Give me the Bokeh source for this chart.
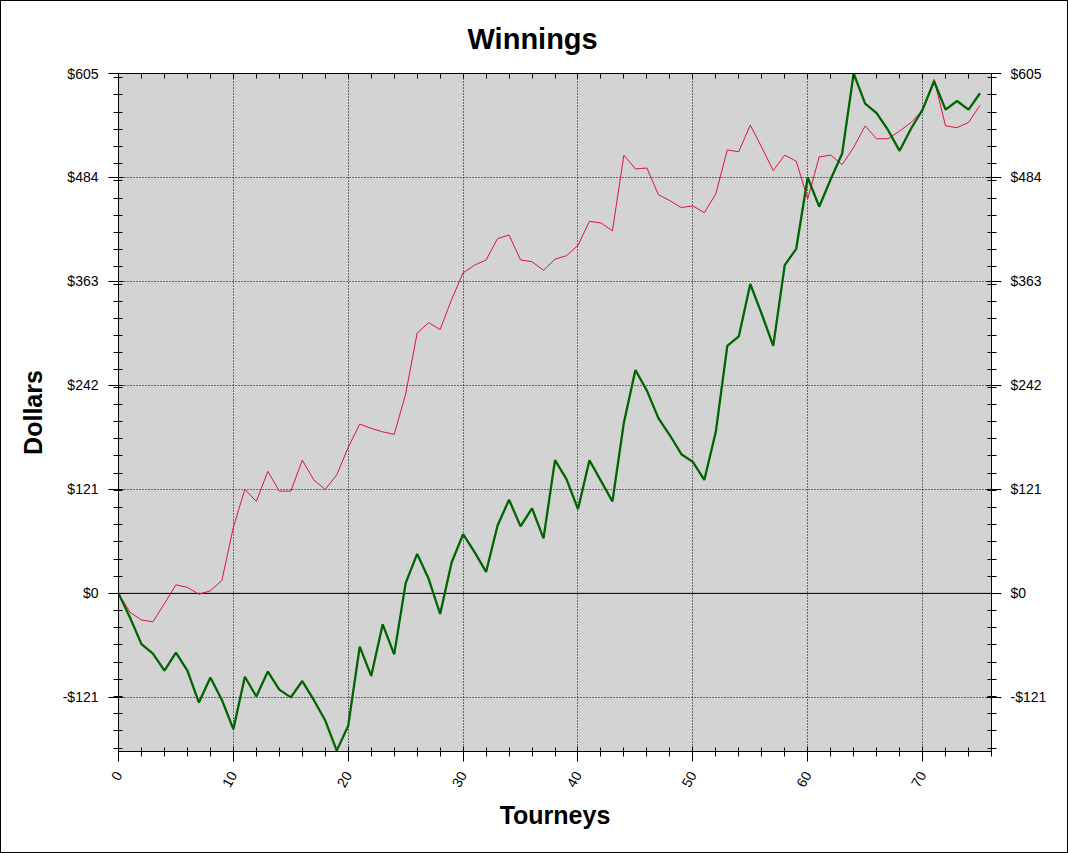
import math
from bokeh.plotting import figure
from bokeh.models import Range1d, LinearAxis, FixedTicker, Span, Title
from bokeh.embed import file_html
from bokeh.resources import INLINE

# ---------------- data ----------------
tourneys = [0, 1, 2, 3, 4, 5, 6, 7, 8, 9, 10, 11, 12, 13, 14, 15, 16, 17, 18, 19,
            20, 21, 22, 23, 24, 25, 26, 27, 28, 29, 30, 31, 32, 33, 34, 35, 36, 37, 38, 39,
            40, 41, 42, 43, 44, 45, 46, 47, 48, 49, 50, 51, 52, 53, 54, 55, 56, 57, 58, 59,
            60, 61, 62, 63, 64, 65, 66, 67, 68, 69, 70, 71, 72, 73, 74, 75]

winnings = [0, -28, -59, -70, -90, -69, -90, -127, -98, -124,
            -158, -97, -120, -91, -112, -121, -102, -124, -148, -183,
            -154, -62, -96, -36, -71, 12, 46, 17, -24, 36,
            69, 48, 25, 79, 109, 78, 99, 64, 155, 133,
            98, 155, 131, 107, 199, 260, 236, 204, 184, 162,
            153, 132, 188, 288, 299, 360, 325, 288, 382, 401,
            484, 450, 482, 512, 605, 570, 559, 539, 515, 541,
            563, 596, 563, 573, 563, 582]

trend = [0, -22, -31, -33, -12, 10, 7, -1, 3, 15,
         77, 121, 107, 142, 119, 119, 155, 132, 121, 138,
         170, 197, 192, 188, 185, 232, 303, 315, 307, 342,
         373, 382, 388, 413, 417, 388, 386, 376, 389, 393,
         405, 433, 431, 422, 510, 494, 495, 464, 457, 449,
         451, 443, 465, 516, 514, 545, 519, 492, 510, 503,
         459, 508, 510, 499, 519, 544, 529, 529, 538, 548,
         562, 598, 544, 542, 548, 568]

y_tick_values = [-121, 0, 121, 242, 363, 484, 605]
y_tick_labels = ["-$121", "$0", "$121", "$242", "$363", "$484", "$605"]
y_minor_values = [-180, -160, -140, -120, -100, -80, -60, -40, -20, 0, 20, 40, 60, 80,
                  100, 120, 140, 160, 180, 200, 220, 240, 260, 280, 300, 320, 340, 360,
                  380, 400, 420, 440, 460, 480, 500, 520, 540, 560, 580, 600]
x_tick_values = [0, 10, 20, 30, 40, 50, 60, 70]
x_minor_values = [0, 2, 4, 6, 8, 10, 12, 14, 16, 18, 20, 22, 24, 26, 28, 30, 32, 34, 36,
                  38, 40, 42, 44, 46, 48, 50, 52, 54, 56, 58, 60, 62, 64, 66, 68, 70, 72,
                  74, 76]

FONT = "Liberation Sans"

p = figure(width=1066, height=851, output_backend="svg", toolbar_location=None,
           x_range=Range1d(0, 76), y_range=Range1d(-184, 605),
           min_border_left=117, min_border_right=76, min_border_top=72,
           min_border_bottom=101,
           background_fill_color="#d3d3d3", border_fill_color="white",
           outline_line_color="black", outline_line_width=1)
p.styles = {"margin": "1px", "outline": "1px solid black", "outline-offset": "0px"}

xa = p.below[0]
ya = p.left[0]

yt = FixedTicker(ticks=y_tick_values, minor_ticks=y_minor_values)
xt = FixedTicker(ticks=x_tick_values, minor_ticks=x_minor_values)
xt_top = FixedTicker(ticks=[], minor_ticks=x_minor_values)
overrides = dict(zip(y_tick_values, y_tick_labels))


def style_axis(ax):
    ax.axis_line_color = "black"
    ax.major_tick_line_color = "black"
    ax.minor_tick_line_color = "black"
    ax.major_tick_in = 5
    ax.major_tick_out = 10
    ax.minor_tick_in = 4
    ax.minor_tick_out = 5
    ax.major_label_text_font = FONT
    ax.major_label_text_font_size = "14px"
    ax.major_label_text_color = "black"
    ax.axis_label_text_font = FONT
    ax.axis_label_text_font_size = "25px"
    ax.axis_label_text_font_style = "bold"
    ax.axis_label_text_color = "black"


# bottom axis
xa.ticker = xt
style_axis(xa)
xa.major_label_orientation = math.pi / 3
xa.major_label_standoff = 11
xa.axis_label = "Tourneys"
xa.axis_label_standoff = 7

# left axis
ya.ticker = yt
style_axis(ya)
ya.major_label_overrides = overrides
ya.major_label_standoff = 10
ya.axis_label = "Dollars"
ya.axis_label_standoff = 13

# right axis
ra = LinearAxis(ticker=yt, major_label_overrides=overrides)
style_axis(ra)
ra.major_label_standoff = 9
p.add_layout(ra, "right")

# top axis (minor ticks only, pointing inside)
ta = LinearAxis(ticker=xt_top)
style_axis(ta)
ta.major_tick_out = 0
ta.minor_tick_out = 0
ta.minor_tick_in = 5
ta.major_label_standoff = 0
p.add_layout(ta, "above")

p.add_layout(Title(text="Winnings", align="left", offset=349,
                   text_font=FONT, text_font_size="29px", text_font_style="bold",
                   text_color="black", standoff=38), "above")

# grids
p.xgrid.ticker = xt
p.ygrid.ticker = yt
for g in (p.xgrid[0], p.ygrid[0]):
    g.grid_line_color = "black"
    g.grid_line_dash = "1 2"
    g.grid_line_width = 1

p.add_layout(Span(location=0, dimension="width", line_color="black",
                  line_width=1, level="underlay"))

p.line(tourneys, trend, line_color="crimson", line_width=1)
p.line(tourneys, winnings, line_color="#006400", line_width=2.3)

open("out.html", "w").write(file_html(p, INLINE))
